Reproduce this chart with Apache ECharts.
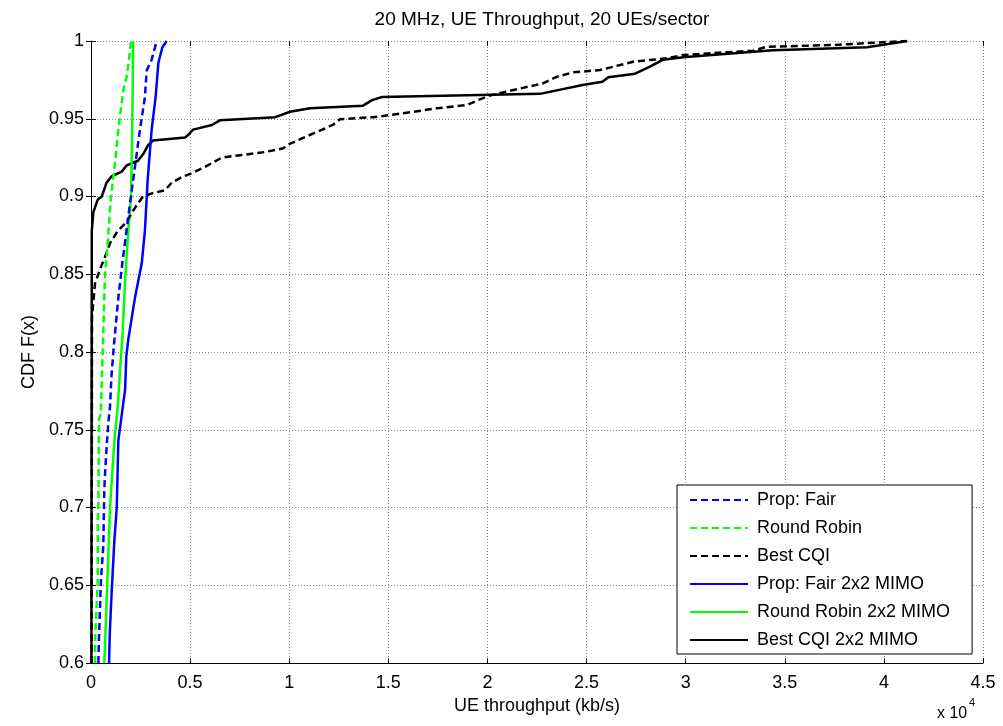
<!DOCTYPE html>
<html>
<head>
<meta charset="utf-8">
<script src="https://cdn.jsdelivr.net/npm/echarts@6/dist/echarts.min.js"></script>
<style>html,body{margin:0;padding:0;background:#fff}#c{width:1003px;height:726px}</style>
</head>
<body>
<div id="c"></div>
<script>
// x values in units of 10^4 kb/s, y = CDF
var seriesNames = ['Prop: Fair', 'Round Robin', 'Best CQI', 'Prop: Fair 2x2 MIMO', 'Round Robin 2x2 MIMO', 'Best CQI 2x2 MIMO'];
var xTicks = [0, 0.5, 1, 1.5, 2, 2.5, 3, 3.5, 4, 4.5];
var yTicks = [0.6, 0.65, 0.7, 0.75, 0.8, 0.85, 0.9, 0.95, 1];

var propFair = [[0.037,0.6],[0.040,0.615],[0.050,0.653],[0.062,0.675],[0.067,0.711],[0.070,0.72],[0.079,0.739],[0.087,0.754],[0.096,0.765],[0.104,0.786],[0.118,0.808],[0.138,0.835],[0.158,0.857],[0.188,0.887],[0.213,0.911],[0.247,0.943],[0.272,0.964],[0.281,0.981],[0.306,0.988],[0.323,0.996],[0.331,1]];
var roundRobin = [[0.020,0.6],[0.022,0.619],[0.034,0.653],[0.034,0.692],[0.037,0.70],[0.040,0.756],[0.050,0.761],[0.060,0.805],[0.070,0.848],[0.084,0.87],[0.101,0.90],[0.121,0.9215],[0.138,0.943],[0.163,0.9685],[0.180,0.977],[0.197,0.994],[0.202,1]];
var bestCqi = [[0.003,0.6],[0.005,0.8225],[0.020,0.844],[0.045,0.853],[0.070,0.861],[0.096,0.87],[0.136,0.878],[0.180,0.8836],[0.213,0.891],[0.262,0.90],[0.307,0.902],[0.373,0.904],[0.408,0.909],[0.459,0.9125],[0.510,0.915],[0.575,0.919],[0.610,0.9215],[0.660,0.925],[0.762,0.9267],[0.878,0.9286],[0.970,0.931],[0.988,0.933],[1.122,0.9406],[1.220,0.946],[1.256,0.9497],[1.424,0.951],[1.575,0.9535],[1.745,0.9567],[1.897,0.9588],[1.953,0.962],[2.013,0.965],[2.280,0.9728],[2.350,0.977],[2.430,0.9798],[2.568,0.9813],[2.735,0.9867],[2.906,0.9889],[2.987,0.991],[3.340,0.9938],[3.410,0.9963],[3.740,0.9974],[3.966,0.999],[4.117,1]];
var propFairMimo = [[0.091,0.6],[0.095,0.62],[0.104,0.645],[0.118,0.679],[0.130,0.70],[0.138,0.743],[0.172,0.776],[0.178,0.797],[0.188,0.808],[0.222,0.835],[0.256,0.857],[0.272,0.878],[0.286,0.911],[0.306,0.943],[0.326,0.964],[0.340,0.986],[0.360,0.996],[0.382,1]];
var roundRobinMimo = [[0.067,0.6],[0.074,0.623],[0.084,0.658],[0.096,0.70],[0.118,0.743],[0.135,0.765],[0.151,0.797],[0.158,0.808],[0.172,0.846],[0.188,0.878],[0.202,0.90],[0.208,0.943],[0.213,1]];
var bestCqiMimo = [[0.002,0.6],[0.004,0.878],[0.012,0.89],[0.034,0.898],[0.054,0.90],[0.079,0.909],[0.104,0.913],[0.155,0.916],[0.180,0.92],[0.237,0.923],[0.267,0.928],[0.288,0.933],[0.313,0.936],[0.474,0.938],[0.490,0.9395],[0.515,0.943],[0.610,0.946],[0.650,0.949],[0.930,0.951],[1.004,0.9545],[1.105,0.9567],[1.372,0.9584],[1.418,0.962],[1.468,0.964],[2.265,0.966],[2.480,0.9717],[2.580,0.9738],[2.610,0.9767],[2.745,0.979],[2.820,0.9835],[2.886,0.988],[2.987,0.9895],[3.440,0.994],[3.915,0.996],[4.047,0.9985],[4.117,1]];

var seriesData = [propFair, roundRobin, bestCqi, propFairMimo, roundRobinMimo, bestCqiMimo];
var seriesColors = ['#0000ff', '#00ff00', '#000000', '#0000ff', '#00ff00', '#000000'];
var seriesDashed = [true, true, true, false, false, false];

var chart = echarts.init(document.getElementById('c'), null, {renderer: 'canvas'});
var font = 'Liberation Sans, Arial, sans-serif';
var series = seriesNames.map(function (n, i) {
  return {
    name: n,
    type: 'line',
    data: seriesData[i],
    symbol: 'none',
    smooth: false,
    animation: false,
    lineStyle: {color: seriesColors[i], width: 2.5, type: seriesDashed[i] ? [7, 4] : 'solid'},
    itemStyle: {color: seriesColors[i]},
    z: 10 - i
  };
});
var option = {
  backgroundColor: '#ffffff',
  animation: false,
  title: {
    text: '20 MHz, UE Throughput, 20 UEs/sector',
    left: 537, top: 5, textAlign: 'center',
    textStyle: {fontFamily: font, fontSize: 19, fontWeight: 'normal', color: '#000'}
  },
  grid: {left: 91, right: 20, top: 41, bottom: 63, containLabel: false},
  xAxis: [{
    type: 'value', min: 0, max: 4.5, interval: 0.5,
    name: 'UE throughput (kb/s)', nameLocation: 'middle', nameGap: 32,
    nameTextStyle: {fontFamily: font, fontSize: 18, color: '#000'},
    axisLine: {show: true, lineStyle: {color: '#000', width: 1}},
    axisTick: {show: true, inside: true, length: 5, lineStyle: {color: '#000'}},
    axisLabel: {fontFamily: font, fontSize: 18, color: '#000', margin: 11},
    splitLine: {show: true, lineStyle: {color: '#8a8a8a', type: [1, 2], width: 1}}
  }, {
    type: 'value', min: 0, max: 4.5, interval: 0.5, position: 'top',
    axisLine: {show: false},
    axisTick: {show: true, inside: true, length: 5, lineStyle: {color: '#000'}},
    axisLabel: {show: false}, splitLine: {show: false}
  }],
  yAxis: [{
    type: 'value', min: 0.6, max: 1, interval: 0.05,
    name: 'CDF F(x)', nameLocation: 'middle', nameGap: 50,
    nameTextStyle: {fontFamily: font, fontSize: 18, color: '#000'},
    axisLine: {show: true, lineStyle: {color: '#000', width: 1}},
    axisTick: {show: true, inside: true, length: 5, lineStyle: {color: '#000'}},
    axisLabel: {fontFamily: font, fontSize: 18, color: '#000', margin: 7},
    splitLine: {show: true, lineStyle: {color: '#8a8a8a', type: [1, 2], width: 1}}
  }, {
    type: 'value', min: 0.6, max: 1, interval: 0.05, position: 'right',
    axisLine: {show: false},
    axisTick: {show: true, inside: true, length: 5, lineStyle: {color: '#000'}},
    axisLabel: {show: false}, splitLine: {show: false}
  }],
  legend: {
    data: seriesNames,
    orient: 'vertical',
    left: 677, top: 485,
    padding: [6, 22, 5, 12],
    itemWidth: 58, itemHeight: 18, itemGap: 10,
    backgroundColor: '#ffffff', borderColor: '#000', borderWidth: 1,
    itemStyle: {opacity: 0},
    textStyle: {fontFamily: font, fontSize: 18, color: '#000', padding: [0, 0, 0, 4]},
    selectedMode: false
  },
  graphic: [{
    type: 'text', left: 937, top: 706,
    style: {text: 'x 10', fontFamily: font, fontSize: 16, fill: '#000'}
  }, {
    type: 'text', left: 969, top: 697,
    style: {text: '4', fontFamily: font, fontSize: 11, fill: '#000'}
  }],
  series: series
};
chart.setOption(option);
</script>
</body>
</html>
